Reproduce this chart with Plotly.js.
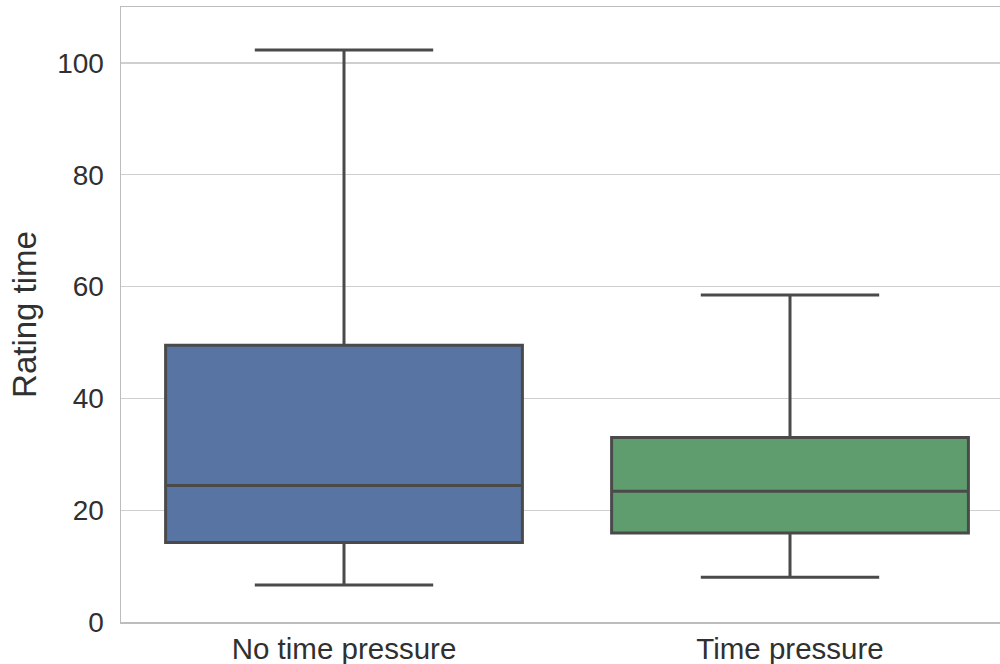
<!DOCTYPE html>
<html>
<head>
<meta charset="utf-8">
<script src="https://cdn.plot.ly/plotly-3.0.1.min.js"></script>
<style>html,body{margin:0;padding:0;background:#fff;}#chart{width:1000px;height:664px;}</style>
</head>
<body>
<div id="chart"></div>
<script>
var categories = ["No time pressure", "Time pressure"];
var lowerWhisker = [6.6, 8.0];
var q1Values = [14.2, 15.9];
var medianValues = [24.4, 23.4];
var q3Values = [49.5, 33.0];
var upperWhisker = [102.3, 58.5];
var boxColors = ["#5874a3", "#5f9d6e"];
var yTicks = [0, 20, 40, 60, 80, 100];

var traces = categories.map(function (c, i) {
  return {
    type: "box",
    x: [i],
    q1: [q1Values[i]],
    median: [medianValues[i]],
    q3: [q3Values[i]],
    lowerfence: [lowerWhisker[i]],
    upperfence: [upperWhisker[i]],
    width: 0.8,
    whiskerwidth: 0.5,
    fillcolor: boxColors[i],
    line: {color: "#4a4a4a", width: 3},
    boxpoints: false,
    hoverinfo: "none",
    showlegend: false
  };
});

var layout = {
  width: 1000,
  height: 664,
  margin: {l: 121, r: 0, t: 7, b: 42},
  paper_bgcolor: "#ffffff",
  plot_bgcolor: "#ffffff",
  font: {family: "Liberation Sans, Arial, sans-serif", color: "#303030", size: 27},
  xaxis: {
    range: [-0.5, -0.5 + 879 / 446],
    tickmode: "array",
    tickvals: [0, 1],
    ticktext: categories,
    showgrid: false,
    zeroline: false,
    showline: true,
    mirror: true,
    linecolor: "#bdbdbd",
    linewidth: 1.5,
    ticks: "",
    ticklabelstandoff: 0,
    tickfont: {size: 29.5, color: "#303030"}
  },
  yaxis: {
    range: [0, 110],
    tickmode: "array",
    tickvals: yTicks,
    showgrid: true,
    gridcolor: "#cfcfcf",
    gridwidth: 1.2,
    zeroline: false,
    showline: true,
    linecolor: "#bdbdbd",
    linewidth: 1.5,
    ticks: "",
    ticklabelstandoff: 10,
    tickfont: {size: 28, color: "#303030"},
    title: {text: "Rating time", font: {size: 33, color: "#303030"}, standoff: 10}
  }
};

Plotly.newPlot("chart", traces, layout, {staticPlot: true});
</script>
</body>
</html>
